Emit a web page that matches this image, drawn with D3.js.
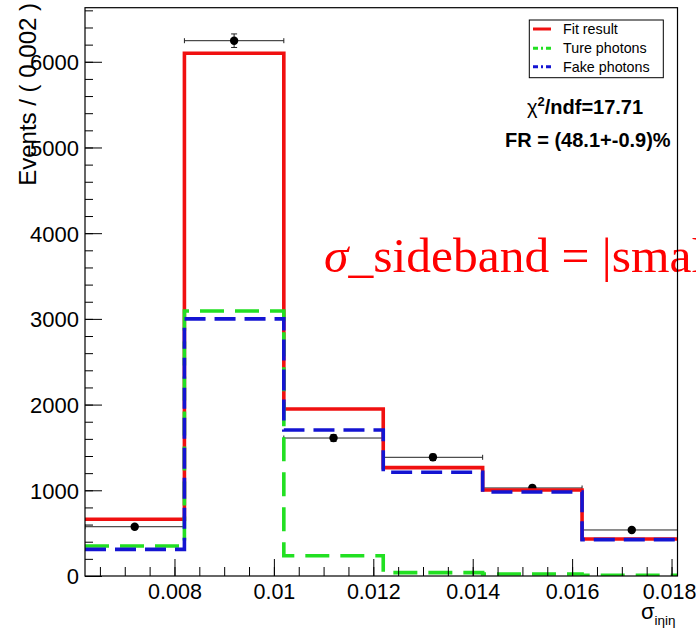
<!DOCTYPE html>
<html>
<head>
<meta charset="utf-8">
<script src="https://cdn.jsdelivr.net/npm/d3@7"></script>
<style>
  html, body { margin: 0; padding: 0; background: #fff; overflow: hidden; }
  svg { display: block; }
  text { font-family: "Liberation Sans", Arial, Helvetica, sans-serif; }
</style>
</head>
<body>
<svg id="chart" width="696" height="628"></svg>
<script>
// ---- data ----
const binEdges   = [0.0062, 0.0082, 0.0102, 0.0122, 0.0142, 0.0162, 0.0182];
const binCenters = [0.0072, 0.0092, 0.0112, 0.0132, 0.0152, 0.0172];
const dataCounts = [575, 6246, 1610, 1385, 1027, 537];
const fitResult  = [662, 6099, 1949, 1264, 1003, 432];
const truePhotons = [350, 3092, 237, 39, 23, 8];
const fakePhotons = [311, 3000, 1704, 1210, 980, 424];
const xTickValues = [0.008, 0.010, 0.012, 0.014, 0.016, 0.018];
const xTickLabels = ["0.008", "0.01", "0.012", "0.014", "0.016", "0.018"];
const yTickValues = [0, 1000, 2000, 3000, 4000, 5000, 6000];
const yTickLabels = ["0", "1000", "2000", "3000", "4000", "5000", "6000"];
const legendLabels = ["Fit result", "Ture photons", "Fake photons"];

// ---- layout ----
const L = 85, R = 677.5, T = 7.7, B = 576;
const svg = d3.select("#chart");
const x = d3.scaleLinear().domain([0.0062, 0.01812]).range([L, R]);
const y = d3.scaleLinear().domain([0, 6631]).range([B, T]);

const colRed = "#f01010", colGreen = "#22e022", colBlue = "#1414d2";

svg.append("defs").append("clipPath").attr("id", "frameclip")
  .append("rect").attr("x", L).attr("y", T).attr("width", R - L).attr("height", B - T);

// ---- red annotation text (behind frame) ----
const ann = svg.append("text")
  .attr("x", 324).attr("y", 271.5)
  .attr("fill", "#ff0000")
  .style("font-family", "'Liberation Serif', 'Times New Roman', serif")
  .style("font-size", "49.5px");
ann.append("tspan").style("font-style", "italic").text("σ");
ann.append("tspan").text("_sideband = |smal");

const plot = svg.append("g").attr("clip-path", "url(#frameclip)");

// ---- data points with error bars ----
const pts = plot.append("g");
binCenters.forEach((c, i) => {
  const v = dataCounts[i], e = Math.sqrt(v);
  const cx = x(c), cy = y(v);
  const x0 = x(binEdges[i]), x1 = x(binEdges[i + 1]);
  pts.append("line").attr("x1", x0).attr("x2", x1).attr("y1", cy).attr("y2", cy)
    .attr("stroke", "#222").attr("stroke-width", 1);
  pts.append("line").attr("x1", x0).attr("x2", x0).attr("y1", cy - 2.5).attr("y2", cy + 2.5)
    .attr("stroke", "#222").attr("stroke-width", 1);
  pts.append("line").attr("x1", x1).attr("x2", x1).attr("y1", cy - 2.5).attr("y2", cy + 2.5)
    .attr("stroke", "#222").attr("stroke-width", 1);
  pts.append("line").attr("x1", cx).attr("x2", cx).attr("y1", y(v + e)).attr("y2", y(v - e))
    .attr("stroke", "#222").attr("stroke-width", 1);
  pts.append("line").attr("x1", cx - 3).attr("x2", cx + 3).attr("y1", y(v + e)).attr("y2", y(v + e))
    .attr("stroke", "#222").attr("stroke-width", 1);
  pts.append("line").attr("x1", cx - 3).attr("x2", cx + 3).attr("y1", y(v - e)).attr("y2", y(v - e))
    .attr("stroke", "#222").attr("stroke-width", 1);
  pts.append("circle").attr("cx", cx).attr("cy", cy).attr("r", 4.2).attr("fill", "#000");
});

// ---- step histograms ----
function stepData(vals) {
  const arr = vals.map((v, i) => [binEdges[i], v]);
  arr.push([binEdges[binEdges.length - 1], vals[vals.length - 1]]);
  return arr;
}
const stepLine = d3.line().x(d => x(d[0])).y(d => y(d[1])).curve(d3.curveStepAfter);

plot.append("path").attr("d", stepLine(stepData(fitResult)))
  .attr("fill", "none").attr("stroke", colRed).attr("stroke-width", 3.6);
plot.append("path").attr("d", stepLine(stepData(truePhotons)))
  .attr("fill", "none").attr("stroke", colGreen).attr("stroke-width", 3.6)
  .attr("stroke-dasharray", "24,11");
plot.append("path").attr("d", stepLine(stepData(fakePhotons)))
  .attr("fill", "none").attr("stroke", colBlue).attr("stroke-width", 3.6)
  .attr("stroke-dasharray", "21,9");

// ---- frame ----
svg.append("rect").attr("x", L).attr("y", T).attr("width", R - L).attr("height", B - T)
  .attr("fill", "none").attr("stroke", "#000").attr("stroke-width", 1.2);

// ---- axes ----
const xMinor = d3.range(0.0065, 0.01811, 0.0005);
const xAxisMinor = d3.axisBottom(x).tickValues(xMinor).tickSize(-9).tickFormat("");
const xAxisMajor = d3.axisBottom(x).tickValues(xTickValues).tickSize(-17)
  .tickFormat((d, i) => xTickLabels[i]);
const gxm = svg.append("g").attr("transform", `translate(0,${B})`).call(xAxisMinor);
const gx = svg.append("g").attr("transform", `translate(0,${B})`).call(xAxisMajor);
[gxm, gx].forEach(g => { g.select(".domain").remove(); g.selectAll("line").attr("stroke", "#000"); });
gx.selectAll(".tick text").attr("fill", "#000").style("font-size", "21.5px")
  .attr("dy", "0").attr("y", 22.5)
  .attr("dx", (d, i) => i === xTickValues.length - 1 ? -2.5 : 0);

const yMinor = d3.range(0, 6631, 200);
const yAxisMinor = d3.axisLeft(y).tickValues(yMinor).tickSize(-8).tickFormat("");
const yAxisMajor = d3.axisLeft(y).tickValues(yTickValues).tickSize(-17)
  .tickFormat((d, i) => yTickLabels[i]);
const gym = svg.append("g").attr("transform", `translate(${L},0)`).call(yAxisMinor);
const gy = svg.append("g").attr("transform", `translate(${L},0)`).call(yAxisMajor);
[gym, gy].forEach(g => { g.select(".domain").remove(); g.selectAll("line").attr("stroke", "#000"); });
gy.selectAll(".tick text").attr("x", -6).attr("dy", "0.36em").attr("fill", "#000").style("font-size", "22px");

// ---- axis titles ----
svg.append("text")
  .attr("transform", "translate(35.5,3) rotate(-90)")
  .attr("text-anchor", "end")
  .style("font-size", "24px").attr("fill", "#000")
  .text("Events / ( 0.002 )");

const xt = svg.append("text").attr("x", 641).attr("y", 618.5).attr("fill", "#000").style("font-size", "22px");
xt.append("tspan").text("σ");
xt.append("tspan").attr("dy", 6).style("font-size", "12px")
  .attr("textLength", 21).attr("lengthAdjust", "spacingAndGlyphs").text("iηiη");

// ---- legend ----
const lg = svg.append("g");
lg.append("rect").attr("x", 529.3).attr("y", 20).attr("width", 134).attr("height", 57.7)
  .attr("fill", "#fff").attr("stroke", "#000").attr("stroke-width", 1);
const legCols = [colRed, colGreen, colBlue];
const legDash = [null, "5,3,2,3", "5,3,2,3"];
const legY = [29, 48.3, 66.7];
legendLabels.forEach((lab, i) => {
  const ln = lg.append("line").attr("x1", 533).attr("x2", 551).attr("y1", legY[i]).attr("y2", legY[i])
    .attr("stroke", legCols[i]).attr("stroke-width", 3);
  if (legDash[i]) ln.attr("stroke-dasharray", legDash[i]);
  lg.append("text").attr("x", 563).attr("y", legY[i] + 5).style("font-size", "14.3px")
    .attr("fill", "#000").text(lab);
});

// ---- fit statistics ----
const chi = svg.append("text").attr("x", 527).attr("y", 114).attr("fill", "#000")
  .style("font-size", "20px");
chi.append("tspan").text("χ");
chi.append("tspan").attr("dy", -8).style("font-size", "13px").style("font-weight", "bold").text("2");
chi.append("tspan").attr("dy", 8).style("font-weight", "bold").text("/ndf=17.71");

svg.append("text").attr("x", 505).attr("y", 146.5).attr("fill", "#000")
  .style("font-size", "20px").style("font-weight", "bold")
  .text("FR = (48.1+-0.9)%");
</script>
</body>
</html>
